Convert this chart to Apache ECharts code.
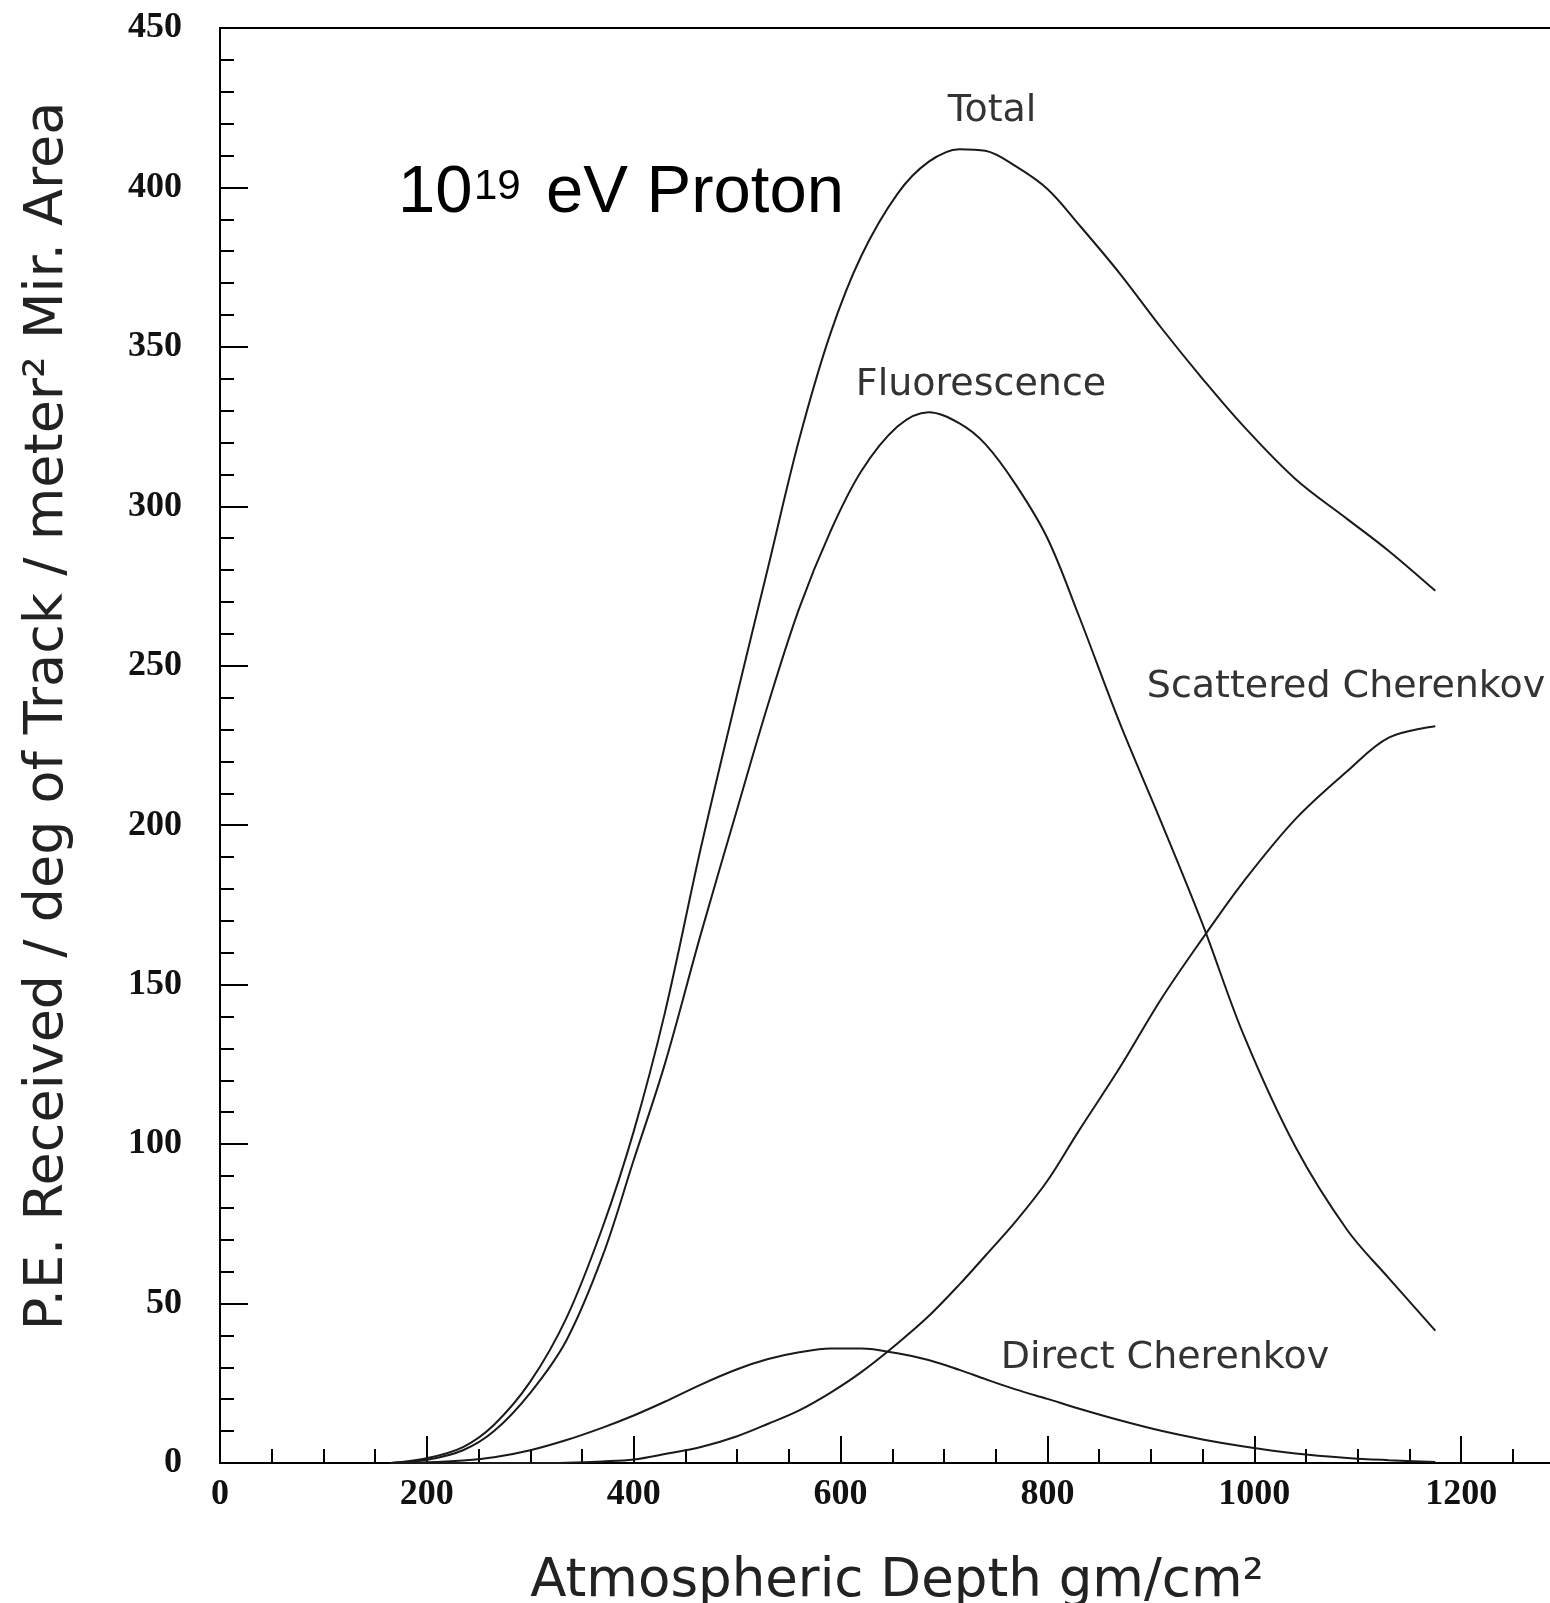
<!DOCTYPE html>
<html>
<head>
<meta charset="utf-8">
<script src="https://cdn.jsdelivr.net/npm/echarts@6/dist/echarts.min.js"></script>
<style>
html,body{margin:0;padding:0;background:#fff;}
#chart{width:1550px;height:1603px;}
</style>
</head>
<body>
<div id="chart"></div>
<script>
// Atmospheric depth (gm/cm^2) sample points
const depth = [165,200,235,265,300,335,370,400,430,465,500,530,560,590,620,655,685,715,740,770,800,830,870,910,950,990,1040,1090,1130,1175];
// P.E. received per deg of track per m^2 mirror area
const total = [0,1.5,5,12,25.5,45.5,74,104,141,193,241,281,321,354,378.5,398,408,412,411.5,406.5,399.5,388.5,373,356,340,325,308.5,296,286,273.5];
const fluorescence = [0,1,4,10,22,38.5,65,95,125,166,205,238,268,292,311,325,329.5,326,319.5,306.5,290,266,232,201,169,134,99,73,58,41.5];
const scattered = [0,0,0,0,0,0.1,0.5,1.1,2.8,5,8.4,12.3,16.5,22,28.5,37.5,46,56,65,76,88.5,104,124,145.5,164.5,182.5,202,217,227.5,231];
const direct = [0,0.2,0.8,1.8,4,7.2,11.1,14.9,19.2,24.6,29.4,32.6,34.7,35.9,35.9,34.4,32.3,29.2,26.3,23,20.1,17.1,13.4,10.1,7.4,5.2,3,1.6,0.9,0.3];

const xTicks = {min:0, max:1400, interval:200};
const yTicks = {min:0, max:450, interval:50};

const curveLabels = [
  {text:'Total', x:992, y:111},
  {text:'Fluorescence', x:981, y:385},
  {text:'Scattered Cherenkov', x:1346, y:687},
  {text:'Direct Cherenkov', x:1165, y:1358}
];

function pairs(ys){ return depth.map((d,i)=>[d, ys[i]]); }

const chart = echarts.init(document.getElementById('chart'), null, {renderer:'canvas'});
const lineStyle = {color:'#1a1a1a', width:2};
const tickLabel = {fontFamily:'Liberation Serif', fontWeight:'bold', fontSize:36, color:'#111', formatter:function(v){return String(v);}};

function mkSeries(name, ys){
  return {name:name, type:'line', data:pairs(ys), showSymbol:false, smooth:0.35, lineStyle:lineStyle, animation:false};
}

const graphics = curveLabels.map(l => ({
  type:'text', x:l.x, y:l.y,
  style:{text:l.text, font:"38px 'DejaVu Sans', sans-serif", fill:'#333', align:'center', verticalAlign:'middle'}
}));
graphics.push({
  type:'text', x:897, y:1582,
  style:{text:'Atmospheric Depth gm/cm²', font:"53px 'DejaVu Sans', sans-serif", fill:'#222', align:'center', verticalAlign:'middle'}
});
graphics.push({
  type:'text', x:48, y:716, rotation:Math.PI/2,
  style:{text:'P.E. Received / deg of Track / meter² Mir. Area', font:"54px 'DejaVu Sans', sans-serif", fill:'#222', align:'center', verticalAlign:'middle'}
});
graphics.push({
  type:'text', x:398, y:194,
  style:{text:'10', font:"67px 'Liberation Sans', Arial, sans-serif", fill:'#000', align:'left', verticalAlign:'middle'}
});
graphics.push({
  type:'text', x:474, y:187,
  style:{text:'19', font:"42px 'Liberation Sans', Arial, sans-serif", fill:'#000', align:'left', verticalAlign:'middle'}
});
graphics.push({
  type:'text', x:546, y:194,
  style:{text:'eV Proton', font:"67px 'Liberation Sans', Arial, sans-serif", fill:'#000', align:'left', verticalAlign:'middle'}
});

chart.setOption({
  animation:false,
  backgroundColor:'#fff',
  grid:{left:220, top:28, width:1448, height:1435, outerBoundsMode:'none', containLabel:false, show:true, borderColor:'#000', borderWidth:2, backgroundColor:'transparent'},
  xAxis:{
    type:'value', min:xTicks.min, max:xTicks.max, interval:xTicks.interval,
    axisLine:{lineStyle:{color:'#000', width:2}},
    axisTick:{inside:true, length:27, lineStyle:{color:'#000', width:2}},
    minorTick:{show:true, splitNumber:4, length:14, lineStyle:{color:'#000', width:2}},
    splitLine:{show:false},
    axisLabel:Object.assign({margin:14, showMaxLabel:false}, tickLabel)
  },
  yAxis:{
    type:'value', min:yTicks.min, max:yTicks.max, interval:yTicks.interval,
    axisLine:{lineStyle:{color:'#000', width:2}},
    axisTick:{inside:true, length:28, lineStyle:{color:'#000', width:2}},
    minorTick:{show:true, splitNumber:5, length:14, lineStyle:{color:'#000', width:2}},
    splitLine:{show:false},
    axisLabel:Object.assign({margin:38}, tickLabel)
  },
  series:[
    mkSeries('Total', total),
    mkSeries('Fluorescence', fluorescence),
    mkSeries('Scattered Cherenkov', scattered),
    mkSeries('Direct Cherenkov', direct)
  ],
  graphic:graphics
});
</script>
</body>
</html>
